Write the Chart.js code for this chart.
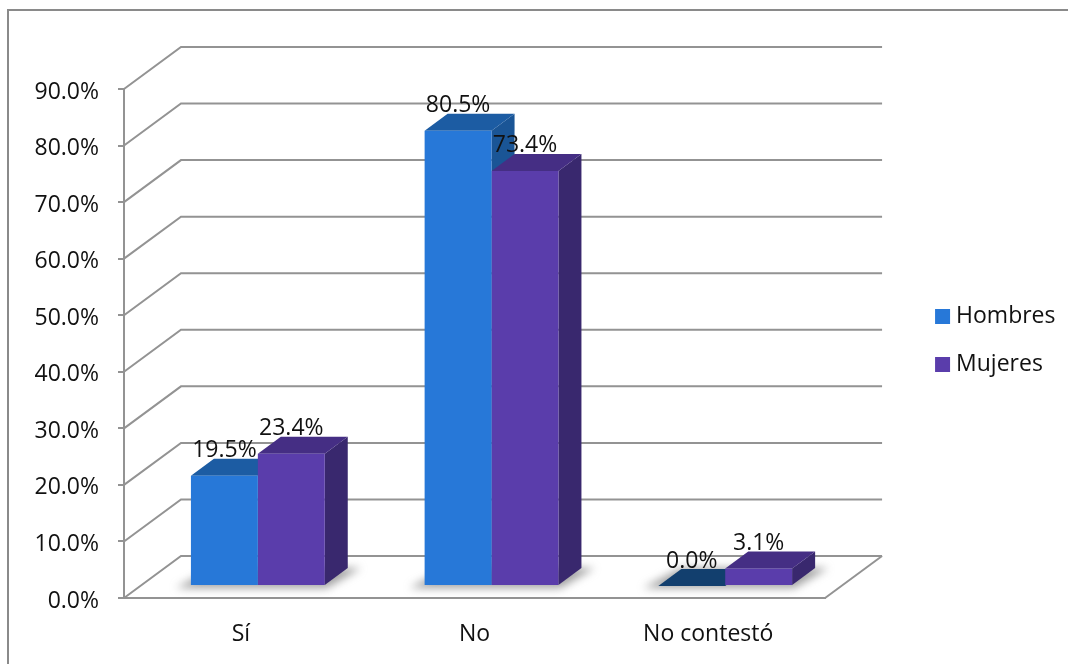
<!DOCTYPE html>
<html>
<head>
<meta charset="utf-8">
<style>
  html, body { margin: 0; background: #fff; }
  #wrap { position: relative; width: 1068px; height: 664px; }
</style>
</head>
<body>
<div id="wrap"><canvas id="graph"></canvas></div>
<script src="https://cdn.jsdelivr.net/npm/chart.js@4"></script>
<script>
const categories = ['Sí', 'No', 'No contestó'];
const hombres = [19.5, 80.5, 0.0];
const mujeres = [23.4, 73.4, 3.1];

const fontName = '"Open Sans", sans-serif';
const fontSize = 23;
const lineGrey = '#939393';

// perspective of the box
const wallX = 57, wallY = -42;
const barShiftX = 17, barShiftY = -12;
const barDepthX = 23, barDepthY = -17;

const faces = [
    { top: '#1c5ca3', side: '#1a5596', zero: '#123f6e' },
    { top: '#452e84', side: '#39286e', zero: '#452e84' }
];

function poly(ctx, pts, fill) {
    ctx.beginPath();
    pts.forEach((p, i) => i ? ctx.lineTo(p[0], p[1]) : ctx.moveTo(p[0], p[1]));
    ctx.closePath();
    ctx.fillStyle = fill;
    ctx.fill();
}

const box3d = {
    id: 'box3d',
    afterLayout(chart) {
        // legend sits a little above the middle of the plot
        chart.legend.top -= 3;
        chart.legend.bottom -= 3;
    },
    beforeDatasetsDraw(chart) {
        const ctx = chart.ctx;
        const y = chart.scales.y, area = chart.chartArea;

        // frame of the picture
        ctx.save();
        ctx.strokeStyle = '#8a8a8a';
        ctx.lineWidth = 2;
        ctx.beginPath();
        ctx.moveTo(8, 664);
        ctx.lineTo(8, 10);
        ctx.lineTo(1068, 10);
        ctx.stroke();

        // side wall + back wall lines
        ctx.strokeStyle = lineGrey;
        y.ticks.forEach(t => {
            const py = y.getPixelForValue(t.value);
            ctx.beginPath();
            ctx.moveTo(area.left, py);
            ctx.lineTo(area.left + wallX, py + wallY);
            ctx.lineTo(area.right + wallX, py + wallY);
            ctx.stroke();
        });
        // floor edge on the right
        ctx.beginPath();
        ctx.moveTo(area.right, area.bottom);
        ctx.lineTo(area.right + wallX, area.bottom + wallY);
        ctx.stroke();

        // floor shadow of each bar pair
        const m0 = chart.getDatasetMeta(0), m1 = chart.getDatasetMeta(1);
        const baseY = area.bottom + barShiftY;
        ctx.filter = 'blur(4px)';
        categories.forEach((c, i) => {
            const left = m0.data[i].x - m0.data[i].width / 2 + barShiftX;
            const right = m1.data[i].x + m1.data[i].width / 2 + barShiftX;
            poly(ctx, [
                [left - 15, baseY + 2],
                [right + 2, baseY + 2],
                [right + barDepthX + 13, baseY + barDepthY - 1],
                [left + barDepthX, baseY + barDepthY - 1]
            ], 'rgba(110,110,110,0.65)');
        });
        ctx.filter = 'none';

        // top and side faces, first series first
        [m0, m1].forEach((meta, d) => {
            meta.data.forEach(bar => {
                const l = bar.x - bar.width / 2 + barShiftX;
                const r = bar.x + bar.width / 2 + barShiftX;
                const t = bar.y + barShiftY;
                const b = bar.base + barShiftY;
                poly(ctx, [[r, t], [r + barDepthX, t + barDepthY], [r + barDepthX, b + barDepthY], [r, b]], faces[d].side);
                poly(ctx, [[l, t], [r, t], [r + barDepthX, t + barDepthY], [l + barDepthX, t + barDepthY]],
                    t === b ? faces[d].zero : faces[d].top);
            });
        });
        ctx.restore();
    },
    beforeDatasetDraw(chart) {
        chart.ctx.save();
        chart.ctx.translate(barShiftX, barShiftY);
    },
    afterDatasetDraw(chart) {
        chart.ctx.restore();
    },
    afterDatasetsDraw(chart) {
        const ctx = chart.ctx;
        ctx.save();
        ctx.font = fontSize + 'px ' + fontName;
        ctx.fillStyle = '#111';
        ctx.textAlign = 'center';
        ctx.textBaseline = 'middle';
        chart.data.datasets.forEach((ds, d) => {
            chart.getDatasetMeta(d).data.forEach((bar, i) => {
                ctx.fillText(ds.data[i].toFixed(1) + '%', bar.x + barShiftX, bar.y + barShiftY - 25);
            });
        });
        ctx.restore();
    }
};

const ctx = document.getElementById('graph').getContext('2d');
const chart = new Chart(ctx, {
    type: 'bar',
    data: {
        labels: categories,
        datasets: [
            { label: 'Hombres', data: hombres, backgroundColor: '#2778d8', clip: false },
            { label: 'Mujeres', data: mujeres, backgroundColor: '#5a3dab', clip: false }
        ]
    },
    plugins: [box3d],
    options: {
        responsive: true,
        maintainAspectRatio: false,
        animation: false,
        categoryPercentage: 134 / 234,
        barPercentage: 1,
        layout: { padding: { top: 89, right: 2.5, bottom: 0, left: 0 } },
        font: { family: fontName },
        scales: {
            x: {
                afterFit(scale) { scale.height = 66; },
                grid: { display: false },
                border: { color: lineGrey, width: 2 },
                ticks: { color: '#111', padding: 15, font: { family: fontName, size: fontSize } }
            },
            y: {
                min: 0,
                max: 90,
                afterFit(scale) { scale.width = 124; },
                grid: { drawOnChartArea: false, color: lineGrey, lineWidth: 2, tickLength: 6 },
                border: { color: lineGrey, width: 2 },
                ticks: {
                    stepSize: 10,
                    color: '#111',
                    padding: 19,
                    labelOffset: 3,
                    font: { family: fontName, size: fontSize },
                    callback: v => v.toFixed(1) + '%'
                }
            },
            // only there to hold the legend away from the plot
            gap: {
                type: 'linear',
                position: 'right',
                afterFit(scale) { scale.width = 90.5; },
                grid: { display: false },
                border: { display: false },
                ticks: { display: false }
            }
        },
        plugins: {
            tooltip: { enabled: false },
            legend: {
                position: 'right',
                fullSize: false,
                labels: {
                    // narrow boxWidth pulls the text closer to the square
                    usePointStyle: true,
                    pointStyle: 'rect',
                    boxWidth: 4,
                    boxHeight: 15,
                    padding: 25,
                    color: '#111',
                    font: { family: fontName, size: fontSize }
                }
            }
        }
    }
});
</script>
</body>
</html>
